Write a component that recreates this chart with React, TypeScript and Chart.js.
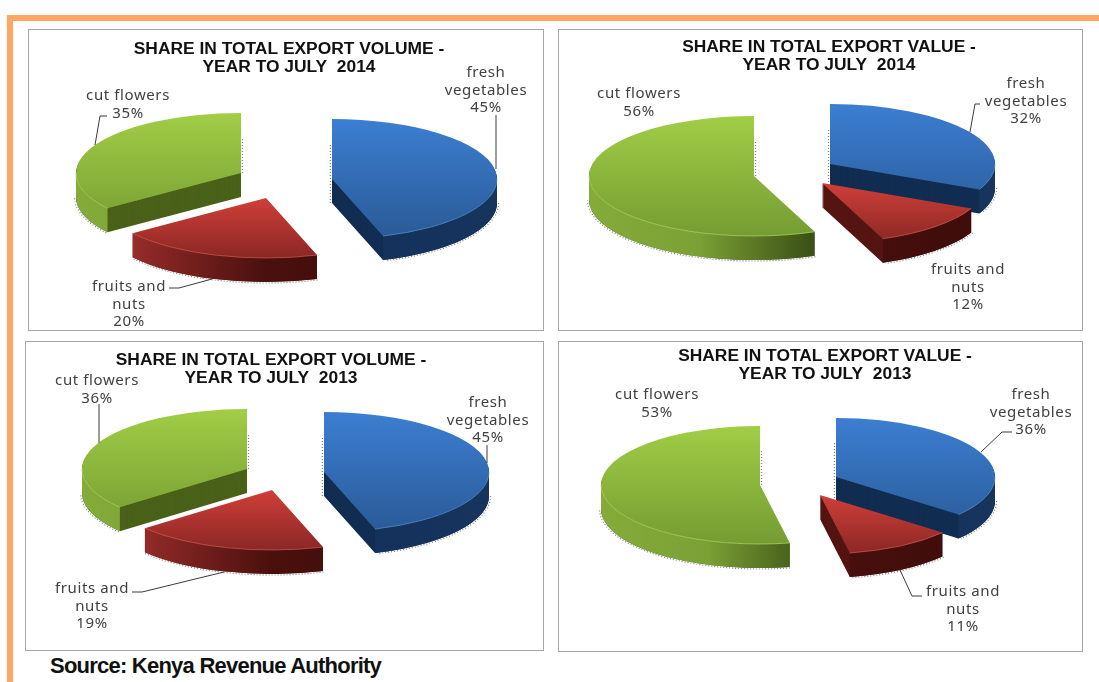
import React, { useEffect, useRef } from "react";
import { Chart, registerables } from "chart.js";

Chart.register(...registerables);

// Export shares, in percent, ordered as the slices run clockwise from twelve o'clock.
const categories = ["fresh vegetables", "fruits and nuts", "cut flowers"];
const categoryLines = [["fresh", "vegetables"], ["fruits and", "nuts"], ["cut flowers"]];
const volume2014 = [45, 20, 35];
const value2014 = [32, 12, 56];
const volume2013 = [45, 19, 36];
const value2013 = [36, 11, 53];
const titleVolume2014 = ["SHARE IN TOTAL EXPORT VOLUME -", "YEAR TO JULY  2014"];
const titleValue2014 = ["SHARE IN TOTAL EXPORT VALUE -", "YEAR TO JULY  2014"];
const titleVolume2013 = ["SHARE IN TOTAL EXPORT VOLUME -", "YEAR TO JULY  2013"];
const titleValue2013 = ["SHARE IN TOTAL EXPORT VALUE -", "YEAR TO JULY  2013"];
const sourceNote = "Source: Kenya Revenue Authority";

type Pt = [number, number];
interface PanelLayout {
  values: number[];
  title: string[];
  box: { x: number; y: number; w: number; h: number };
  titleCenter: number;
  titleTop: number;
  radius: number;
  ry: number;
  // Where each exploded slice's tip lands on the page.
  tips: Pt[];
  // Centre x and first-line y of each slice caption.
  captions: Pt[];
  leaders: Pt[][];
}

const DEPTH = 24;
const DRAW_ORDER = [2, 0, 1];

const panels: PanelLayout[] = [
  {
    values: volume2014,
    title: titleVolume2014,
    box: { x: 28, y: 29, w: 516, h: 302 },
    titleCenter: 289,
    titleTop: 11,
    radius: 165,
    ry: 60,
    tips: [[332, 179], [266, 198], [241, 173]],
    captions: [[486, 73], [129, 287], [128, 96]],
    leaders: [
      [[496, 115], [496, 169]],
      [[169, 288], [179, 288], [212, 279]],
      [[107, 116], [100, 116], [95, 145]],
    ],
  },
  {
    values: value2014,
    title: titleValue2014,
    box: { x: 558, y: 29, w: 525, h: 302 },
    titleCenter: 829,
    titleTop: 9,
    radius: 165,
    ry: 60,
    tips: [[830, 164], [822, 183], [754, 176]],
    captions: [[1026, 84], [968, 270], [639, 94]],
    leaders: [[[980, 104], [975, 104], [970, 132]], [], []],
  },
  {
    values: volume2013,
    title: titleVolume2013,
    box: { x: 25, y: 341, w: 519, h: 310 },
    titleCenter: 271,
    titleTop: 10,
    radius: 165,
    ry: 60,
    tips: [[324, 472], [272, 490], [247, 469]],
    captions: [[488, 403], [92, 589], [97, 381]],
    leaders: [
      [[487, 445], [487, 463]],
      [[132, 592], [142, 592], [224, 572]],
      [[99, 404], [99, 443]],
    ],
  },
  {
    values: value2013,
    title: titleValue2013,
    box: { x: 558, y: 341, w: 525, h: 311 },
    titleCenter: 825,
    titleTop: 6,
    radius: 159,
    ry: 59,
    tips: [[836, 477], [820, 495], [760, 485]],
    captions: [[1031, 395], [963, 592], [657, 395]],
    leaders: [
      [[1012, 432], [1002, 432], [981, 452]],
      [[922, 596], [912, 596], [900, 570]],
      [],
    ],
  },
];

// Colour ramps per category, in the order of `categories`.
const faceStops = [
  ["#3c7ed2", "#2a5a96"],
  ["#d34038", "#d03f38", "#8a2725"],
  ["#a1cd46", "#759c32"],
];
const baseColors = ["#2f6cb8", "#b83330", "#8ab53c"];
const rimStops = [
  ["#0f2a4e", "#12305a", "#16345c"],
  ["#a83230", "#4a100d", "#3d0c0a"],
  ["#85ab3a", "#7ba035", "#3c5216", "#3c5216"],
];
const cutColors = ["#122d52", "#541512", "#4a6119"];
const edgeColors = ["#5a94d8", "#d95c55", "#b5da66"];

function ramp(g: CanvasGradient, stops: string[]) {
  stops.forEach((c, i) => g.addColorStop(stops.length === 1 ? 0 : i / (stops.length - 1), c));
  return g;
}

function fillWith(arc: any, ctx: CanvasRenderingContext2D, fill: CanvasGradient | string) {
  const resolved = arc.options;
  arc.options = Object.assign(Object.create(resolved), { backgroundColor: fill });
  arc.draw(ctx);
  arc.options = resolved;
}

// Outer rim of a slice: only the part of the arc facing the viewer is traced.
function frontArc(arc: any) {
  const s = Math.max(arc.startAngle, 0);
  const e = Math.min(arc.endAngle, Math.PI);
  return e > s ? { s, e } : null;
}

function slicesPlugin(p: PanelLayout) {
  return {
    id: "tiltedSlices",
    beforeDatasetDraw(chart: any) {
      const ctx: CanvasRenderingContext2D = chart.ctx;
      const arcs = chart.getDatasetMeta(0).data;
      const k = p.ry / p.radius;
      const step = 1 / k;
      DRAW_ORDER.forEach((i) => {
        const arc = arcs[i];
        const R = arc.outerRadius;
        const tipX = p.tips[i][0] - p.box.x;
        const tipY = p.tips[i][1] - p.box.y;
        const front = frontArc(arc);

        // Fine stippled shadow along the foot of the wall and the back edge.
        ctx.save();
        ctx.strokeStyle = "rgba(45,45,45,0.6)";
        ctx.lineWidth = 1.2;
        ctx.setLineDash([1, 2]);
        if (front) {
          ctx.beginPath();
          for (let a = front.s; a <= front.e + 1e-6; a += 0.02) {
            const px = tipX + (R + 1.5) * Math.cos(a);
            const py = tipY + DEPTH + (p.ry + 1) * Math.sin(a);
            if (a === front.s) ctx.moveTo(px, py);
            else ctx.lineTo(px, py);
          }
          ctx.stroke();
        }
        if (i !== 1) {
          const side = i === 0 ? -1.5 : 1.5;
          ctx.beginPath();
          ctx.moveTo(tipX + side, tipY - 34);
          ctx.lineTo(tipX + side, tipY + (i === 0 ? DEPTH + 2 : 2));
          ctx.stroke();
        }
        ctx.restore();

        ctx.save();
        ctx.translate(tipX, tipY);
        ctx.scale(1, k);
        ctx.translate(-arc.x, -arc.y);

        for (let d = DEPTH; d >= 1; d -= 1) {
          ctx.save();
          ctx.translate(0, d * step);
          fillWith(arc, ctx, cutColors[i]);
          ctx.restore();
        }

        if (front) {
          const rimFill = ramp(ctx.createLinearGradient(arc.x - R, 0, arc.x + R, 0), rimStops[i]);
          ctx.beginPath();
          ctx.arc(arc.x, arc.y, R, front.s, front.e);
          ctx.arc(arc.x, arc.y + DEPTH * step, R, front.e, front.s, true);
          ctx.closePath();
          ctx.fillStyle = rimFill;
          ctx.fill();
        }

        const faceFill = ramp(ctx.createLinearGradient(0, arc.y - R, 0, arc.y + R), faceStops[i]);
        fillWith(arc, ctx, faceFill);

        if (front) {
          ctx.beginPath();
          ctx.arc(arc.x, arc.y, R, front.s, front.e);
          ctx.strokeStyle = edgeColors[i];
          ctx.lineWidth = 1;
          ctx.stroke();
        }
        ctx.restore();
      });
      return false;
    },
    afterDraw(chart: any) {
      const ctx: CanvasRenderingContext2D = chart.ctx;
      ctx.save();
      ctx.translate(-p.box.x, -p.box.y);
      ctx.strokeStyle = "#3a3a3a";
      ctx.lineWidth = 1;
      p.leaders.forEach((line) => {
        if (!line.length) return;
        ctx.beginPath();
        line.forEach(([x, y], n) => (n ? ctx.lineTo(x, y) : ctx.moveTo(x, y)));
        ctx.stroke();
      });
      ctx.fillStyle = "#404040";
      ctx.font = '15px "Noto Sans"';
      (ctx as any).letterSpacing = "0.6px";
      ctx.textAlign = "center";
      ctx.textBaseline = "middle";
      categories.forEach((_, i) => {
        const lines = [...categoryLines[i], `${p.values[i]}%`];
        lines.forEach((text, n) => ctx.fillText(text, p.captions[i][0], p.captions[i][1] + n * 17.3));
      });
      ctx.restore();
    },
  };
}

function Panel({ layout }: { layout: PanelLayout }) {
  const ref = useRef<HTMLCanvasElement>(null);
  useEffect(() => {
    const { box } = layout;
    const localCenter = layout.titleCenter - box.x;
    const chart = new Chart(ref.current as HTMLCanvasElement, {
      type: "pie",
      data: {
        labels: categories,
        datasets: [
          {
            data: layout.values,
            backgroundColor: baseColors,
            borderWidth: 0,
            radius: layout.radius,
          } as any,
        ],
      },
      plugins: [slicesPlugin(layout)],
      options: {
        responsive: false,
        animation: false,
        layout: {
          padding: {
            left: Math.max(0, 2 * localCenter - box.w),
            right: Math.max(0, box.w - 2 * localCenter),
            top: layout.titleTop,
          },
        },
        plugins: {
          legend: { display: false },
          tooltip: { enabled: false },
          title: {
            display: true,
            text: layout.title,
            color: "#111111",
            font: { family: '"Liberation Sans"', size: 17.4, weight: "bold", lineHeight: 18 / 17.4 },
            padding: 0,
          },
        },
      },
    } as any);
    return () => chart.destroy();
  }, [layout]);

  const { x, y, w, h } = layout.box;
  return (
    <div
      style={{
        position: "absolute",
        left: x,
        top: y,
        width: w,
        height: h,
        boxSizing: "border-box",
        outline: "1.5px solid #a6a6a6",
        outlineOffset: -1,
      }}
    >
      <canvas ref={ref} width={w} height={h} style={{ display: "block" }} />
    </div>
  );
}

export default function App() {
  return (
    <div
      style={{
        position: "fixed",
        left: 0,
        top: 0,
        width: 1099,
        height: 682,
        overflow: "hidden",
        background: "#ffffff",
      }}
    >
      <div style={{ position: "absolute", left: 7, top: 15, width: 1092, height: 5.5, background: "#fda762" }} />
      <div style={{ position: "absolute", left: 7, top: 15, width: 5.5, height: 667, background: "#fda762" }} />
      {panels.map((layout) => (
        <Panel key={layout.title.join(" ")} layout={layout} />
      ))}
      <div
        style={{
          position: "absolute",
          left: 50,
          top: 652,
          fontFamily: '"Liberation Sans"',
          fontWeight: "bold",
          fontSize: 22,
          letterSpacing: -0.77,
          lineHeight: "28px",
          color: "#111111",
          whiteSpace: "nowrap",
        }}
      >
        {sourceNote}
      </div>
    </div>
  );
}
